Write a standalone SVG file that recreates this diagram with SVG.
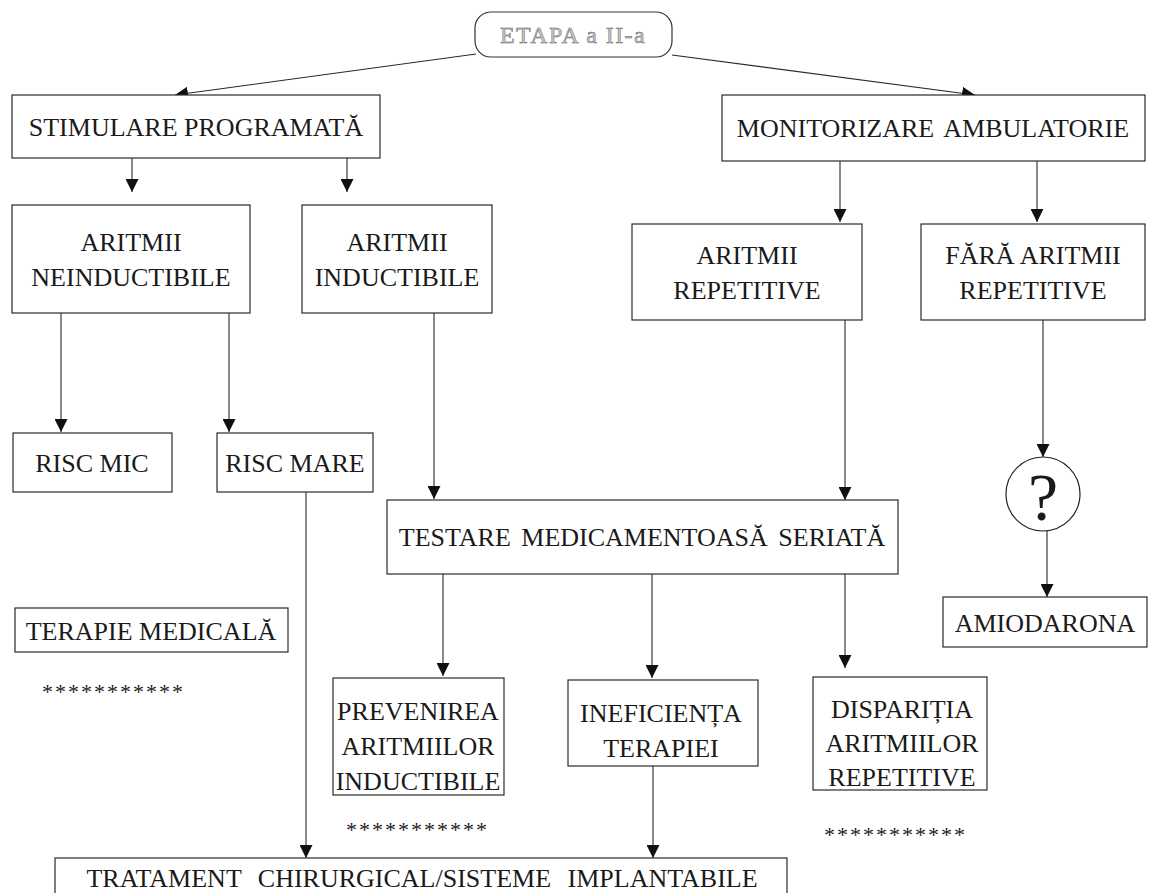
<svg xmlns="http://www.w3.org/2000/svg" width="1149" height="893" viewBox="0 0 1149 893">
  <style>
    .box { fill: #ffffff; stroke: #2a2a2a; stroke-width: 1.2; }
    .lbl { font-family: "Liberation Serif", "Times New Roman", serif; font-size: 26px; fill: #1a1a1a; text-anchor: middle; }
    .stars { font-family: "Liberation Serif", "Times New Roman", serif; font-size: 22px; fill: #1a1a1a; letter-spacing: 2px; }
    .edge { fill: none; stroke: #2a2a2a; stroke-width: 1.1; marker-end: url(#tri); }
  </style>
  <defs>
    <marker id="tri" viewBox="0 0 12 12" refX="12" refY="6" markerWidth="13" markerHeight="13" markerUnits="userSpaceOnUse" orient="auto">
      <path d="M0,0 L12,6 L0,12 Z" fill="#111"/>
    </marker>
  </defs>
  <rect width="1149" height="893" fill="#ffffff"/>

  <!-- connectors -->
  <g id="connectors">
    <line class="edge" x1="476" y1="54" x2="175" y2="95"/>
    <line class="edge" x1="672" y1="55" x2="975" y2="95"/>
    <line class="edge" x1="132" y1="158" x2="132" y2="192"/>
    <line class="edge" x1="347" y1="158" x2="347" y2="192"/>
    <line class="edge" x1="840" y1="161" x2="840" y2="222"/>
    <line class="edge" x1="1037" y1="161" x2="1037" y2="222"/>
    <line class="edge" x1="61" y1="313" x2="61" y2="432"/>
    <line class="edge" x1="229" y1="313" x2="229" y2="432"/>
    <line class="edge" x1="434" y1="313" x2="434" y2="499"/>
    <line class="edge" x1="845" y1="320" x2="845" y2="500"/>
    <line class="edge" x1="1043" y1="320" x2="1043" y2="457"/>
    <line class="edge" x1="1047" y1="531" x2="1047" y2="597"/>
    <line class="edge" x1="443" y1="574" x2="443" y2="676"/>
    <line class="edge" x1="652" y1="574" x2="652" y2="678"/>
    <line class="edge" x1="845" y1="574" x2="845" y2="668"/>
    <line class="edge" x1="306" y1="492" x2="306" y2="858"/>
    <line class="edge" x1="653" y1="766" x2="653" y2="858"/>
  </g>

  <g id="etapa">
    <rect x="475" y="12" width="197" height="45" rx="16" fill="#fff" stroke="#333" stroke-width="1.2"/>
    <text x="573" y="43" font-family="Liberation Serif, serif" font-size="24" letter-spacing="1.4" text-anchor="middle" fill="#c8c8c8" stroke="#666" stroke-width="0.5">ETAPA a II-a</text>
  </g>

  <g id="stimulare">
    <rect class="box" x="12" y="95" width="368" height="63"/>
    <text class="lbl" x="196" y="136">STIMULARE PROGRAMATĂ</text>
  </g>

  <g id="monitorizare">
    <rect class="box" x="722" y="95" width="423" height="66"/>
    <text class="lbl" x="933" y="137" word-spacing="4">MONITORIZARE AMBULATORIE</text>
  </g>

  <g id="aritmii-neinductibile">
    <rect class="box" x="12" y="205" width="238" height="108"/>
    <text class="lbl" x="131" y="251">ARITMII</text>
    <text class="lbl" x="131" y="286">NEINDUCTIBILE</text>
  </g>

  <g id="aritmii-inductibile">
    <rect class="box" x="302" y="205" width="190" height="108"/>
    <text class="lbl" x="397" y="251">ARITMII</text>
    <text class="lbl" x="397" y="286">INDUCTIBILE</text>
  </g>

  <g id="aritmii-repetitive">
    <rect class="box" x="632" y="224" width="230" height="96"/>
    <text class="lbl" x="747" y="264">ARITMII</text>
    <text class="lbl" x="747" y="299">REPETITIVE</text>
  </g>

  <g id="fara-aritmii">
    <rect class="box" x="921" y="224" width="224" height="96"/>
    <text class="lbl" x="1033" y="264">FĂRĂ ARITMII</text>
    <text class="lbl" x="1033" y="299">REPETITIVE</text>
  </g>

  <g id="risc-mic">
    <rect class="box" x="13" y="433" width="159" height="59"/>
    <text class="lbl" x="92" y="472">RISC MIC</text>
  </g>

  <g id="risc-mare">
    <rect class="box" x="217" y="433" width="156" height="59"/>
    <text class="lbl" x="295" y="472">RISC MARE</text>
  </g>

  <g id="testare">
    <rect class="box" x="387" y="500" width="511" height="74"/>
    <text class="lbl" x="642" y="546" word-spacing="4">TESTARE MEDICAMENTOASĂ SERIATĂ</text>
  </g>

  <g id="intrebare">
    <circle cx="1043" cy="494" r="37" fill="#fff" stroke="#222" stroke-width="1.2"/>
    <text x="1043" y="520" font-family="Liberation Serif, serif" font-size="68" text-anchor="middle" fill="#1a1a1a">?</text>
  </g>

  <g id="amiodarona">
    <rect class="box" x="943" y="597" width="204" height="50"/>
    <text class="lbl" x="1045" y="632">AMIODARONA</text>
  </g>

  <g id="terapie-medicala">
    <rect class="box" x="15" y="608" width="273" height="44"/>
    <text class="lbl" x="151" y="640">TERAPIE MEDICALĂ</text>
    <text class="stars" x="42" y="699">***********</text>
  </g>

  <g id="prevenirea">
    <rect class="box" x="333" y="678" width="171" height="117"/>
    <text class="lbl" x="418" y="720">PREVENIREA</text>
    <text class="lbl" x="418" y="755">ARITMIILOR</text>
    <text class="lbl" x="418" y="790">INDUCTIBILE</text>
    <text class="stars" x="346" y="837">***********</text>
  </g>

  <g id="ineficienta">
    <rect class="box" x="568" y="680" width="190" height="86"/>
    <text class="lbl" x="661" y="722">INEFICIENȚA</text>
    <text class="lbl" x="661" y="757">TERAPIEI</text>
  </g>

  <g id="disparitia">
    <rect class="box" x="813" y="677" width="174" height="113"/>
    <text class="lbl" x="902" y="718">DISPARIȚIA</text>
    <text class="lbl" x="902" y="752">ARITMIILOR</text>
    <text class="lbl" x="902" y="786">REPETITIVE</text>
    <text class="stars" x="824" y="842">***********</text>
  </g>

  <g id="tratament">
    <rect class="box" x="55" y="858" width="732" height="60"/>
    <text class="lbl" x="422" y="887" word-spacing="10">TRATAMENT CHIRURGICAL/SISTEME IMPLANTABILE</text>
  </g>
</svg>
